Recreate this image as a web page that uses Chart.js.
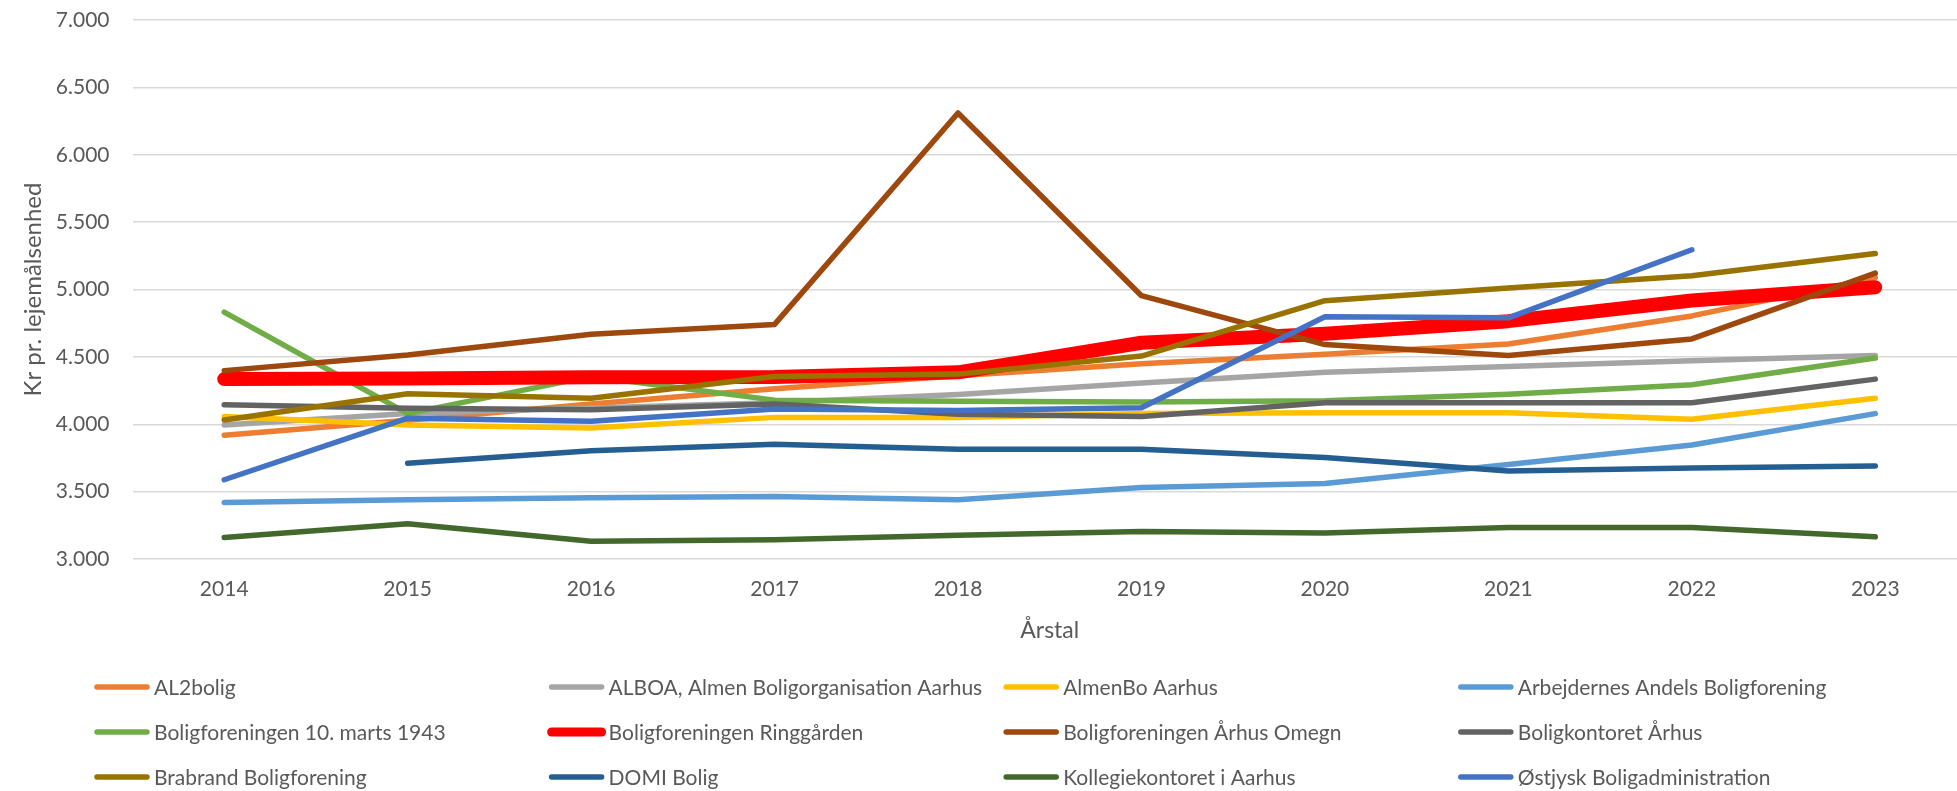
<!DOCTYPE html>
<html>
<head>
<meta charset="utf-8">
<script src="https://cdn.jsdelivr.net/npm/chart.js@4"></script>
<style>
  html, body { margin: 0; padding: 0; background: #fff; overflow: hidden; }
  #wrap { width: 1967px; height: 791px; position: relative; }
</style>
</head>
<body>
<div id="wrap"><canvas id="chart"></canvas></div>
<script>
// Data
var years = ['2014', '2015', '2016', '2017', '2018', '2019', '2020', '2021', '2022', '2023'];

var names = [
  'AL2bolig',
  'ALBOA, Almen Boligorganisation Aarhus',
  'AlmenBo Aarhus',
  'Arbejdernes Andels Boligforening',
  'Boligforeningen 10. marts 1943',
  'Boligforeningen Ringgården',
  'Boligforeningen Århus Omegn',
  'Boligkontoret Århus',
  'Brabrand Boligforening',
  'DOMI Bolig',
  'Kollegiekontoret i Aarhus',
  'Østjysk Boligadministration'
];

var al2bolig      = [3918, 4030, 4150, 4264, 4360, 4449, 4520, 4596, 4804, 5088];
var alboa         = [3994, 4080, 4120, 4160, 4221, 4307, 4386, 4429, 4471, 4511];
var almenbo       = [4057, 3994, 3972, 4051, 4051, 4080, 4085, 4085, 4037, 4193];
var arbejdernes   = [3420, 3440, 3454, 3463, 3440, 3531, 3560, 3702, 3846, 4079];
var marts1943     = [4832, 4079, 4355, 4179, 4170, 4165, 4175, 4222, 4293, 4491];
var ringgaarden   = [4335, 4340, 4349, 4350, 4385, 4605, 4672, 4765, 4918, 5017];
var aarhusOmegn   = [4398, 4514, 4668, 4741, 6310, 4954, 4591, 4511, 4633, 5122];
var boligkontoret = [4145, 4119, 4108, 4150, 4074, 4057, 4159, 4159, 4159, 4335];
var brabrand      = [4031, 4227, 4193, 4355, 4372, 4506, 4917, 5011, 5102, 5267];
var domi          = [null, 3710, 3804, 3852, 3815, 3815, 3753, 3653, 3676, 3690];
var kollegie      = [3159, 3261, 3131, 3142, 3176, 3204, 3193, 3233, 3233, 3165];
var oestjysk      = [3588, 4045, 4023, 4114, 4102, 4122, 4798, 4790, 5295, null];

var seriesValues = [al2bolig, alboa, almenbo, arbejdernes, marts1943, ringgaarden,
  aarhusOmegn, boligkontoret, brabrand, domi, kollegie, oestjysk];

var colors = ['#ED7D31', '#A5A5A5', '#FFC000', '#5B9BD5', '#70AD47', '#FF0000',
  '#9E480E', '#636363', '#997300', '#255E91', '#43682B', '#4472C4'];

var FONT = 'Lato';
var TEXT = '#595959';

function formatKr(v) {
  var s = String(Math.round(v));
  return s.replace(/\B(?=(\d{3})+(?!\d))/g, '.');
}

var datasets = [];
for (var i = 0; i < names.length; i++) {
  datasets.push({
    label: names[i],
    data: seriesValues[i],
    borderColor: colors[i],
    backgroundColor: colors[i],
    borderWidth: names[i] === 'Boligforeningen Ringgården' ? 14 : 5.5,
    borderCapStyle: 'round',
    borderJoinStyle: 'round',
    pointRadius: 0,
    pointHoverRadius: 0,
    tension: 0,
    fill: false,
    order: -i
  });
}

// Legend drawn in fixed columns like the original
var gridLegend = {
  id: 'gridLegend',
  afterDraw: function(chart) {
    var ctx = chart.ctx;
    ctx.save();
    ctx.font = '21px ' + FONT;
    ctx.textBaseline = 'middle';
    ctx.textAlign = 'left';
    chart.data.datasets.forEach(function(ds, i) {
      var col = i % 4;
      var row = Math.floor(i / 4);
      var x = 94 + col * 454.6;
      var y = 687 + row * 45;
      ctx.strokeStyle = ds.borderColor;
      ctx.lineWidth = ds.borderWidth > 8 ? 9 : 5.5;
      ctx.lineCap = 'round';
      ctx.beginPath();
      ctx.moveTo(x + 3, y);
      ctx.lineTo(x + 53, y);
      ctx.stroke();
      ctx.fillStyle = TEXT;
      ctx.fillText(ds.label, x + 60, y + 1);
    });
    ctx.restore();
  }
};

new Chart(document.getElementById('chart').getContext('2d'), {
  type: 'line',
  data: {
    labels: years,
    datasets: datasets
  },
  options: {
    responsive: true,
    maintainAspectRatio: false,
    animation: false,
    layout: {
      padding: { top: 20, right: 0, bottom: 147, left: 0 }
    },
    plugins: {
      legend: { display: false },
      tooltip: { enabled: false }
    },
    scales: {
      x: {
        offset: true,
        grid: { display: false, drawTicks: false },
        border: { display: false },
        ticks: {
          color: TEXT,
          font: { family: FONT, size: 21 },
          padding: 18,
          maxRotation: 0
        },
        title: {
          display: true,
          text: 'Årstal',
          color: TEXT,
          font: { family: FONT, size: 23 },
          padding: 0
        },
        afterFit: function(scale) { scale.height = 85; }
      },
      y: {
        min: 3000,
        max: 7000,
        grid: { color: '#D9D9D9', lineWidth: 1.5, drawTicks: false },
        border: { display: false },
        ticks: {
          stepSize: 500,
          color: TEXT,
          font: { family: FONT, size: 21 },
          padding: 23,
          callback: function(v) { return formatKr(v); }
        },
        title: {
          display: true,
          text: 'Kr pr. lejemålsenhed',
          color: TEXT,
          font: { family: FONT, size: 24 },
          padding: { top: 19, bottom: 0 }
        },
        afterFit: function(scale) {
          scale.width = 132.5;
          scale.paddingTop = 0;
          scale.paddingBottom = 0;
        }
      }
    }
  },
  plugins: [gridLegend]
});
</script>
</body>
</html>
